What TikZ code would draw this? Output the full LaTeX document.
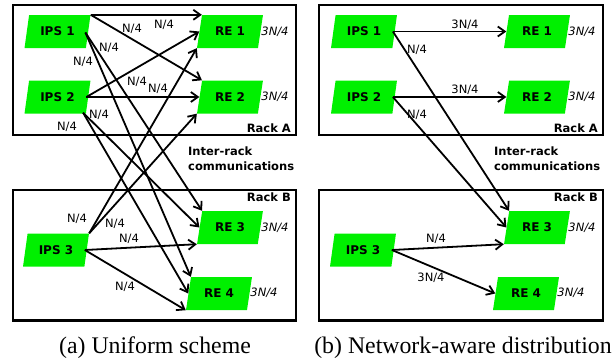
\documentclass[tikz,border=0pt]{standalone}
\usepackage{fontspec}
\setmainfont{Liberation Serif}
\newfontfamily\dvs{DejaVu Sans}
\usetikzlibrary{shapes.geometric,arrows.meta,calc}
\definecolor{boxgreen}{RGB}{0,240,0}
\begin{document}
\begin{tikzpicture}[x=1pt,y=-1pt,
 para/.style={trapezium, trapezium left angle=73, trapezium right angle=107, trapezium stretches=true, minimum width=66pt, minimum height=33pt, inner sep=0pt, fill=boxgreen, font=\dvs\bfseries\fontsize{12}{14}\selectfont},
 rack/.style={draw, line width=2.3pt},
 flow/.style={line width=1.8pt, -{Straight Barb[length=7pt,width=10pt]}},
 lbl/.style={font=\dvs\fontsize{11.5}{13}\selectfont, inner sep=0pt},
 share/.style={font=\dvs\itshape\fontsize{11.5}{13}\selectfont, inner sep=0pt},
 racklbl/.style={font=\dvs\bfseries\fontsize{11.5}{13}\selectfont, inner sep=0pt, anchor=east},
 inter/.style={font=\dvs\bfseries\fontsize{11.5}{15}\selectfont, inner sep=0pt, align=left, anchor=north west},
 caption/.style={font=\fontsize{23.8}{28}\selectfont, inner sep=0pt, anchor=base},
]
\useasboundingbox (0,0) rectangle (616,360);

% ---------- left panel ----------
\draw[rack] (12.7,4.7) rectangle (296,135);
\draw[rack] (12.7,190) rectangle (296,320.5);
\node[racklbl] (rackAa) at (291,128) {Rack A};
\node[racklbl] (rackBa) at (291,197) {Rack B};
\node[inter] (intera) at (188,147) {Inter-rack\\communications};

\node[para] (ipsA1) at (57.5,31.5) {IPS 1};
\node[para] (ipsA2) at (57.5,97) {IPS 2};
\node[para] (ipsA3) at (56,250) {IPS 3};
\node[para] (reA1) at (230,31.5) {RE 1};
\node[para] (reA2) at (230,97) {RE 2};
\node[para] (reA3) at (230,227.5) {RE 3};
\node[para] (reA4) at (219,293.5) {RE 4};
\node[share] (sA1) at (275,32) {3N/4};
\node[share] (sA2) at (275,97) {3N/4};
\node[share] (sA3) at (275,228) {3N/4};
\node[share] (sA4) at (264,293) {3N/4};

\draw[flow] (ipsA1.top right corner) -- (reA1.top left corner);
\draw[flow] (ipsA1.top right corner) -- (reA2.top left corner);
\draw[flow] ($(ipsA1.right side)+(-3,1)$) -- (reA3.top left corner);
\draw[flow] ($(ipsA1.right side)+(-3,1)$) -- (reA4.top left corner);
\draw[flow] ($(ipsA2.right side)+(-2,0)$) -- (reA1.left side);
\draw[flow] ($(ipsA2.right side)+(-2,0)$) -- (reA2.left side);
\draw[flow] ($(ipsA2.bottom right corner)+(-3,-1)$) -- (reA3.left side);
\draw[flow] ($(ipsA2.bottom right corner)+(-3,-1)$) -- (reA4.left side);
\draw[flow] (ipsA3.top right corner) -- (reA1.bottom left corner);
\draw[flow] (ipsA3.top right corner) -- (reA2.bottom left corner);
\draw[flow] ($(ipsA3.right side)+(-2,0)$) -- (reA3.bottom left corner);
\draw[flow] ($(ipsA3.right side)+(-2,0)$) -- (reA4.bottom left corner);

\node[lbl] (la1) at (164,25) {N/4};
\node[lbl] (la2) at (132,29) {N/4};
\node[lbl] (la3) at (109,48) {N/4};
\node[lbl] (la4) at (83,62) {N/4};
\node[lbl] (la5) at (137,82) {N/4};
\node[lbl] (la6) at (158,89) {N/4};
\node[lbl] (la7) at (99,115) {N/4};
\node[lbl] (la8) at (67,127) {N/4};
\node[lbl] (la9) at (77,219) {N/4};
\node[lbl] (la10) at (115,224) {N/4};
\node[lbl] (la11) at (129,239) {N/4};
\node[lbl] (la12) at (125,287) {N/4};

% ---------- right panel ----------
\draw[rack] (319,4.7) rectangle (603,135);
\draw[rack] (319,190) rectangle (603,320.5);
\node[racklbl] (rackAb) at (598,128) {Rack A};
\node[racklbl] (rackBb) at (598,197) {Rack B};
\node[inter] (interb) at (494,147) {Inter-rack\\communications};

\node[para] (ipsB1) at (364,31.5) {IPS 1};
\node[para] (ipsB2) at (364,97) {IPS 2};
\node[para] (ipsB3) at (363,250) {IPS 3};
\node[para] (reB1) at (537,31.5) {RE 1};
\node[para] (reB2) at (537,97) {RE 2};
\node[para] (reB3) at (537,227.5) {RE 3};
\node[para] (reB4) at (526,293.5) {RE 4};
\node[share] (sB1) at (582,32) {3N/4};
\node[share] (sB2) at (582,97) {3N/4};
\node[share] (sB3) at (582,228) {3N/4};
\node[share] (sB4) at (571,293) {3N/4};

\draw[flow] ($(ipsB1.right side)+(-2,0)$) -- (reB1.left side);
\draw[flow] ($(ipsB1.right side)+(-2,0)$) -- (reB3.top left corner);
\draw[flow] ($(ipsB2.right side)+(-2,0)$) -- (reB2.left side);
\draw[flow] ($(ipsB2.right side)+(-2,0)$) -- (reB3.left side);
\draw[flow] ($(ipsB3.right side)+(-2,0)$) -- (reB3.bottom left corner);
\draw[flow] ($(ipsB3.right side)+(-2,0)$) -- (reB4.left side);

\node[lbl] (lb1) at (465,25) {3N/4};
\node[lbl] (lb2) at (417,50) {N/4};
\node[lbl] (lb3) at (465,90) {3N/4};
\node[lbl] (lb4) at (417,115) {N/4};
\node[lbl] (lb5) at (436,239) {N/4};
\node[lbl] (lb6) at (431,278) {3N/4};

% ---------- captions ----------
\node[caption] (capa) at (155,353) {(a) Uniform scheme};
\node[caption] (capb) at (463,353) {(b) Network-aware distribution};
\end{tikzpicture}
\end{document}
